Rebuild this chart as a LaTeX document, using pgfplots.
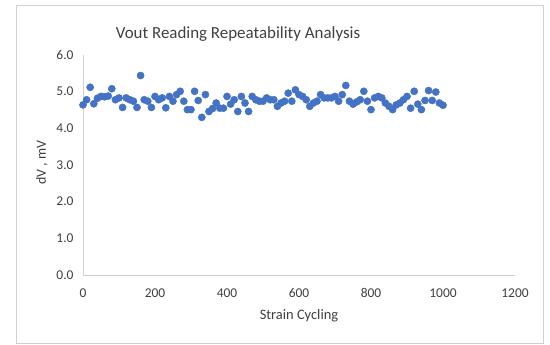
\documentclass[border=0pt]{standalone}
\usepackage{pgfplots}
\pgfplotsset{compat=1.18}
\usepackage{fontspec}
\setmainfont{Carlito}
\definecolor{xlblue}{HTML}{4472C4}
\definecolor{txt}{HTML}{404040}
\definecolor{axgray}{HTML}{D0D0D0}
\begin{document}
\begin{tikzpicture}
\useasboundingbox (0,0) rectangle (550bp,345bp);
\draw[color=axgray, line width=0.8bp] (16bp,2bp) rectangle (543bp,340bp);
\begin{axis}[
  at={(83bp,70bp)}, anchor=south west,
  scale only axis, width=432bp, height=220bp,
  xmin=0, xmax=1200, ymin=0, ymax=6,
  axis x line*=bottom, axis y line*=left,
  axis line style={draw=axgray, line width=0.8bp},
  xtick={0,200,...,1200}, ytick={0,1,...,6},
  major tick length=0pt,
  /pgf/number format/assume math mode=true,
  yticklabel style={/pgf/number format/.cd, fixed, fixed zerofill, precision=1},
  xticklabel style={/pgf/number format/.cd, fixed, 1000 sep={}},
  ticklabel style={font=\fontsize{13.5}{15}\selectfont, text=txt},
  xtick align=outside, ytick align=outside,
  xticklabel shift=10bp, yticklabel shift=6bp,
  title={Vout Reading Repeatability Analysis},
  title style={at={(axis description cs:0.359,1.07)}, anchor=center, yshift=0pt, font=\fontsize{17}{20}\selectfont, text=txt},
  xlabel={Strain Cycling},
  xlabel style={at={(axis description cs:0.5,-0.185)}, anchor=center, yshift=0pt, font=\fontsize{14.5}{16}\selectfont, text=txt},
  ylabel={dV , mV},
  ylabel style={at={(axis description cs:-0.095,0.51)}, anchor=center, rotate=0, font=\fontsize{14}{16}\selectfont, text=txt},
  clip=false,
]
\addplot[only marks, mark=*, mark size=3.6bp, mark options={fill=xlblue, draw=xlblue}] table {
x y
0 4.64
10 4.78
20 5.12
30 4.67
40 4.82
50 4.87
60 4.86
70 4.88
80 5.08
90 4.78
100 4.83
110 4.57
120 4.83
130 4.78
140 4.74
150 4.57
160 5.44
170 4.78
180 4.74
190 4.57
200 4.87
210 4.78
220 4.83
230 4.56
240 4.87
250 4.74
260 4.92
270 5.01
280 4.74
290 4.51
300 4.51
310 5.01
320 4.76
330 4.30
340 4.92
350 4.46
360 4.54
370 4.69
380 4.55
390 4.55
400 4.87
410 4.66
420 4.78
430 4.46
440 4.87
450 4.69
460 4.46
470 4.87
480 4.78
490 4.74
500 4.74
510 4.83
520 4.78
530 4.78
540 4.60
550 4.69
560 4.74
570 4.96
580 4.74
590 5.05
600 4.92
610 4.87
620 4.78
630 4.60
640 4.69
650 4.74
660 4.92
670 4.83
680 4.83
690 4.83
700 4.87
710 4.74
720 4.92
730 5.17
740 4.74
750 4.66
760 4.72
770 4.78
780 5.01
790 4.74
800 4.51
810 4.83
820 4.87
830 4.83
840 4.69
850 4.60
860 4.51
870 4.64
880 4.69
890 4.78
900 4.87
910 4.55
920 5.01
930 4.66
940 4.51
950 4.76
960 5.03
970 4.76
980 4.99
990 4.69
1000 4.63
};
\end{axis}
\end{tikzpicture}
\end{document}
